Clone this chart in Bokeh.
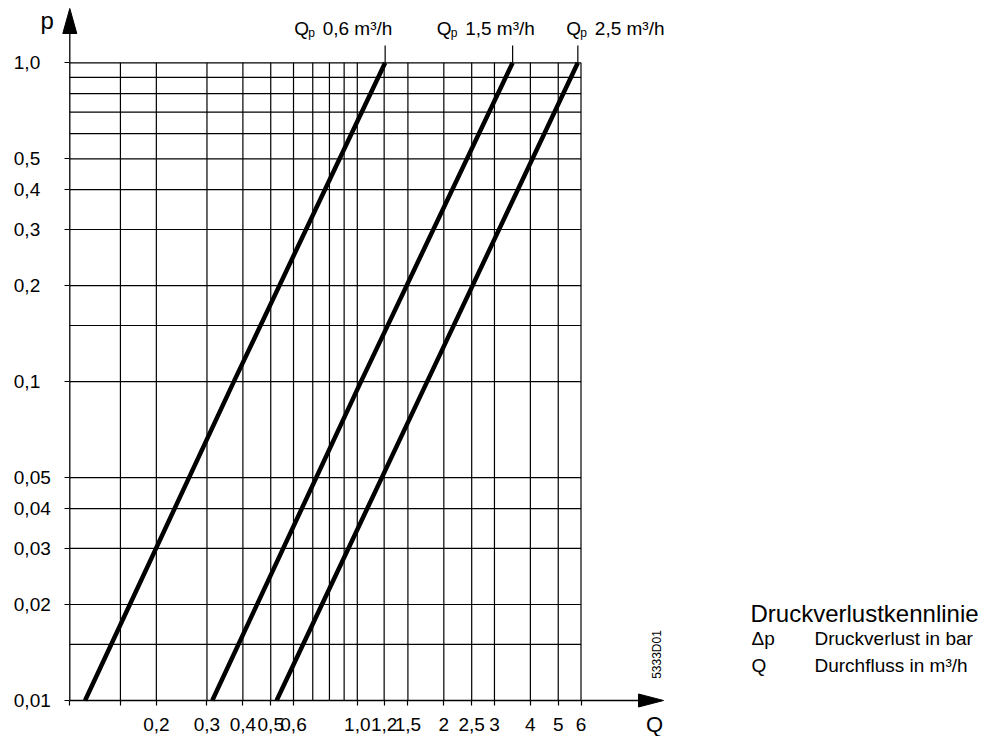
import math
from bokeh.plotting import figure
from bokeh.models import Range1d, FixedTicker, LogAxis, Label
from bokeh.core.properties import value
from bokeh.embed import file_html
from bokeh.resources import INLINE

# ---------------- data ----------------
P_POINTS = [0.01, 0.1, 1.0]            # pressure loss Δp [bar]
Q_QP06 = [0.113, 0.372, 1.25]          # flow Q [m³/h] for Qp 0,6
Q_QP15 = [0.313, 1.03, 3.47]           # flow Q [m³/h] for Qp 1,5
Q_QP25 = [0.524, 1.75, 5.85]           # flow Q [m³/h] for Qp 2,5
CURVE_TEXTS = ["0,6 m³/h", "1,5 m³/h", "2,5 m³/h"]

Q_MIN, Q_MAX = 0.1, 6.0
P_MIN, P_MAX = 0.01, 1.0
# the "1,2" grid line sits at about 1.24 in the reference drawing
Q_GRID = [0.15, 0.2, 0.3, 0.4, 0.5, 0.6, 0.7, 0.8, 0.9, 1.0, 1.24, 1.5, 2, 2.5, 3, 4, 5, 6]
P_GRID = [0.015, 0.02, 0.03, 0.04, 0.05, 0.1, 0.15, 0.2, 0.3, 0.4, 0.5, 0.6, 0.7, 0.8, 0.9, 1.0]
Q_TICKS = [0.1, 0.15, 0.2, 0.3, 0.4, 0.5, 0.6, 1.0, 1.24, 1.5, 2, 2.5, 3, 4, 5, 6]
Q_TICK_LABELS = ["", "", "0,2", "0,3", "0,4", "0,5", "0,6", "1,0", "1,2", "1,5",
                 "2", "2,5", "3", "4", "5", "6"]
P_TICKS = [0.01, 0.02, 0.03, 0.04, 0.05, 0.1, 0.2, 0.3, 0.4, 0.5, 1.0]
P_TICK_LABELS = ["0,01", "0,02", "0,03", "0,04", "0,05", "0,1", "0,2", "0,3", "0,4", "0,5", "1,0"]

# ---------------- layout ----------------
W, H = 1000, 736
X_PX_QMIN, X_PX_QMAX = 69.3, 580.5     # canvas x of Q_MIN / Q_MAX
Y_PX_PMAX, Y_PX_PMIN = 62.3, 700.0     # canvas y (from top) of P_MAX / P_MIN
FONT = "Liberation Sans"

lg = math.log10
dec_x = (X_PX_QMAX - X_PX_QMIN) / (lg(Q_MAX) - lg(Q_MIN))
dec_y = (Y_PX_PMIN - Y_PX_PMAX) / (lg(P_MAX) - lg(P_MIN))
x_start = 10 ** (lg(Q_MIN) - X_PX_QMIN / dec_x)
x_end = 10 ** (lg(Q_MIN) + (W - X_PX_QMIN) / dec_x)
y_end = 10 ** (lg(P_MAX) + Y_PX_PMAX / dec_y)
y_start = 10 ** (lg(P_MIN) - (H - Y_PX_PMIN) / dec_y)


def shift_q(q, px):
    return q * 10 ** (px / dec_x)


def shift_p(pv, px):
    return pv * 10 ** (px / dec_y)


p = figure(width=W, height=H, x_axis_type="log", y_axis_type="log",
           x_range=Range1d(x_start, x_end), y_range=Range1d(y_start, y_end),
           x_axis_location=None, y_axis_location=None,
           output_backend="svg", toolbar_location=None, min_border=0)
p.outline_line_color = None
p.background_fill_color = "white"
p.border_fill_color = "white"
p.xgrid.visible = False
p.ygrid.visible = False

# grid
p.segment(x0=Q_GRID, y0=[P_MIN] * len(Q_GRID), x1=Q_GRID, y1=[P_MAX] * len(Q_GRID),
          line_color="black", line_width=1.2)
p.segment(x0=[Q_MIN] * len(P_GRID), y0=P_GRID, x1=[Q_MAX] * len(P_GRID), y1=P_GRID,
          line_color="black", line_width=1.2)

# axis lines with arrow heads
ARROW_LEN, ARROW_HALF = 25, 7
y_tip = shift_p(P_MAX, 54.3)
y_base = shift_p(P_MAX, 54.3 - ARROW_LEN)
x_tip = shift_q(Q_MAX, 82.5)
x_base = shift_q(Q_MAX, 82.5 - ARROW_LEN)
p.segment(x0=[Q_MIN, Q_MIN], y0=[P_MIN, P_MIN], x1=[Q_MIN, x_base], y1=[y_base, P_MIN],
          line_color="black", line_width=1.3)
p.patch(x=[Q_MIN, shift_q(Q_MIN, -ARROW_HALF), shift_q(Q_MIN, ARROW_HALF)],
        y=[y_tip, y_base, y_base], color="black")
p.patch(x=[x_tip, x_base, x_base],
        y=[P_MIN, shift_p(P_MIN, ARROW_HALF - 0.5), shift_p(P_MIN, -ARROW_HALF + 0.5)], color="black")

# axes (ticks + x labels)
xaxis = LogAxis(fixed_location=P_MIN, ticker=FixedTicker(ticks=Q_TICKS, minor_ticks=[]),
                major_label_overrides={float(t): l for t, l in zip(Q_TICKS, Q_TICK_LABELS)},
                axis_line_color=None, major_tick_in=0, major_tick_out=5,
                minor_tick_in=0, minor_tick_out=0,
                major_tick_line_color="black", major_tick_line_width=1.2,
                major_label_text_font=FONT, major_label_text_font_size="19px",
                major_label_text_color="black", major_label_standoff=12)
p.add_layout(xaxis, "below")
yaxis = LogAxis(fixed_location=Q_MIN, ticker=FixedTicker(ticks=P_TICKS, minor_ticks=[]),
                axis_line_color=None, major_tick_in=0, major_tick_out=5,
                minor_tick_in=0, minor_tick_out=0,
                major_tick_line_color="black", major_tick_line_width=1.2,
                major_label_text_color=None)
p.add_layout(yaxis, "left")

# y tick labels (left aligned, as in the reference)
p.text(x=[Q_MIN] * len(P_TICKS), y=P_TICKS, text=P_TICK_LABELS, x_offset=-56,
       text_align="left", text_baseline="middle", text_font=value(FONT),
       text_font_size="19px", text_color="black")

# curves
for qs in (Q_QP06, Q_QP15, Q_QP25):
    p.line(qs, P_POINTS, line_color="black", line_width=4.5)

# curve labels with leader lines
tops = [Q_QP06[-1], Q_QP15[-1], Q_QP25[-1]]
LABEL_DX = [-91.0, -76.0, -11.5]
p.segment(x0=tops, y0=[P_MAX] * 3, x1=tops, y1=[shift_p(P_MAX, 17.3)] * 3,
          line_color="black", line_width=1.2)
p.text(x=tops, y=[P_MAX] * 3, text=["Q"] * 3, x_offset=LABEL_DX, y_offset=-34,
       text_align="left", text_baseline="middle", text_font=value(FONT),
       text_font_size="19px", text_color="black")
p.text(x=tops, y=[P_MAX] * 3, text=["p"] * 3, x_offset=[d + 14 for d in LABEL_DX], y_offset=-29.8,
       text_align="left", text_baseline="middle", text_font=value(FONT),
       text_font_size="12px", text_color="black")
p.text(x=tops, y=[P_MAX] * 3, text=CURVE_TEXTS, x_offset=[d + 28.5 for d in LABEL_DX], y_offset=-34,
       text_align="left", text_baseline="middle", text_font=value(FONT),
       text_font_size="19px", text_color="black")


def lab(text, x, y_top, size, align="left", angle=0.0):
    p.add_layout(Label(x=x, y=H - y_top, x_units="screen", y_units="screen", text=text,
                       text_font=FONT, text_font_size=size, text_color="black",
                       text_align=align, text_baseline="middle", angle=angle))


# axis names
lab("p", 40, 19.5, "24px")
lab("Q", 654, 724, "22px", align="center")
# drawing id
lab("5333D01", 656.7, 654, "12px", align="center", angle=math.pi / 2)
# legend
lab("Druckverlustkennlinie", 750, 612.5, "24px")
lab("\u0394p", 751, 638.3, "19px")
lab("Druckverlust in bar", 814, 638.3, "19px")
lab("Q", 751, 664.7, "19px")
lab("Durchfluss in m³/h", 814, 664.7, "19px")

open("out.html", "w").write(file_html(p, INLINE))
